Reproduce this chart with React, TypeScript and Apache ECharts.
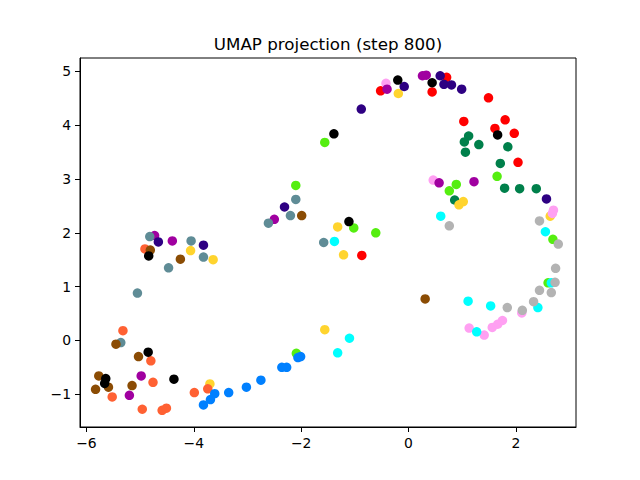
import React, { useEffect, useRef } from "react";
import * as echarts from "echarts";

const xTicks = [-6, -4, -2, 0, 2];
const yTicks = [-1, 0, 1, 2, 3, 4, 5];

const redPts = [[0.71,4.89],[0.44,4.62],[-0.52,4.64],[1.49,4.51],[1.03,4.07],[1.80,4.10],[1.61,3.94],[1.97,3.85],[2.04,3.31],[-0.87,1.58]];
const greenPts = [[1.12,3.80],[1.04,3.69],[1.31,3.64],[1.06,3.50],[1.85,3.60],[1.71,3.29],[1.79,2.83],[2.07,2.82],[2.38,2.82],[0.86,2.61]];
const goldPts = [[-0.19,4.59],[0.94,2.52],[1.02,2.58],[2.64,2.31],[-1.32,2.11],[-1.21,1.59],[-4.06,1.67],[-3.64,1.50],[-3.70,-0.81],[-1.56,0.20]];
const pinkPts = [[-0.42,4.78],[0.46,2.98],[2.70,2.42],[2.68,2.36],[2.11,0.51],[1.75,0.37],[1.66,0.30],[1.56,0.24],[1.41,0.10],[1.13,0.23]];
const magentaPts = [[0.26,4.92],[0.33,4.93],[-0.40,4.67],[0.57,2.93],[1.22,2.95],[-2.50,2.25],[-4.73,1.95],[-4.40,1.85],[-4.98,-0.66],[-5.20,-1.02]];
const indigoPts = [[0.59,4.92],[0.66,4.76],[0.80,4.75],[0.99,4.67],[-0.08,4.72],[-0.88,4.30],[2.57,2.63],[-2.31,2.48],[-4.66,1.83],[-3.82,1.77]];
const limePts = [[-1.56,3.68],[1.65,3.05],[0.89,2.90],[0.76,2.78],[2.69,1.88],[2.60,1.07],[-2.10,2.88],[-1.02,2.09],[-0.61,2.00],[-2.09,-0.24]];
const cyanPts = [[0.60,2.31],[2.55,2.02],[2.66,1.07],[2.41,0.61],[1.11,0.73],[1.53,0.64],[1.27,0.16],[-1.38,1.84],[-1.10,0.04],[-1.32,-0.23]];
const greyPts = [[0.76,2.13],[2.44,2.22],[2.79,1.79],[2.74,1.34],[2.73,1.08],[2.44,0.93],[2.66,0.89],[2.33,0.72],[1.84,0.61],[2.12,0.56]];
const slatePts = [[-2.10,2.62],[-2.20,2.32],[-2.61,2.18],[-1.58,1.82],[-4.82,1.93],[-4.05,1.85],[-3.82,1.55],[-4.47,1.35],[-5.05,0.88],[-5.36,-0.04]];
const orangePts = [[-4.91,1.70],[-5.32,0.18],[-4.80,-0.38],[-4.76,-0.78],[-5.52,-1.05],[-4.96,-1.28],[-4.59,-1.30],[-4.51,-1.26],[-3.99,-0.97],[-3.74,-0.90]];
const brownPts = [[0.31,0.77],[-1.99,2.32],[-4.81,1.68],[-4.25,1.51],[-5.45,-0.07],[-5.03,-0.30],[-5.77,-0.66],[-5.59,-0.87],[-5.83,-0.91],[-5.15,-0.84]];
const blackPts = [[0.44,4.79],[-0.20,4.84],[-1.39,3.84],[1.66,3.82],[-1.11,2.21],[-4.84,1.57],[-4.85,-0.22],[-4.37,-0.72],[-5.64,-0.71],[-5.66,-0.80]];
const bluePts = [[-3.61,-0.99],[-3.69,-1.10],[-3.82,-1.20],[-3.35,-0.97],[-3.02,-0.87],[-2.75,-0.74],[-2.36,-0.50],[-2.27,-0.50],[-2.06,-0.32],[-2.01,-0.30]];

const groups: [number[][], string][] = [
  [redPts, "#ff0000"],
  [greenPts, "#00804b"],
  [goldPts, "#ffd42e"],
  [pinkPts, "#ffa0f2"],
  [magentaPts, "#a000a0"],
  [indigoPts, "#2e0082"],
  [limePts, "#55ee10"],
  [cyanPts, "#00ffff"],
  [greyPts, "#b3b3b3"],
  [slatePts, "#5f8c96"],
  [orangePts, "#ff6133"],
  [brownPts, "#8b4c04"],
  [blackPts, "#000000"],
  [bluePts, "#0080ff"],
];

const FONT = "DejaVu Sans";
const fmt = (v: number) => String(v).replace("-", "\u2212");

export default function App() {
  const ref = useRef<HTMLDivElement>(null);
  useEffect(() => {
    if (!ref.current) return;
    const chart = echarts.init(ref.current, null, { renderer: "svg" });
    const axisCommon = {
      type: "value" as const,
      axisLine: { show: true, onZero: false, lineStyle: { color: "#000", width: 1 } },
      axisTick: { show: true, inside: false, length: 5, lineStyle: { color: "#000", width: 1 } },
      splitLine: { show: false },
    };
    chart.setOption({
      animation: false,
      backgroundColor: "#fff",
      grid: { left: 80, right: 64, top: 58, bottom: 53, show: true, borderColor: "#000", borderWidth: 1, backgroundColor: "transparent" },
      graphic: [
        {
          type: "text",
          x: 328,
          y: 44,
          style: { text: "UMAP projection (step 800)", font: `16.7px "${FONT}"`, fill: "#000", textAlign: "center", textVerticalAlign: "middle" },
        },
      ],
      xAxis: {
        ...axisCommon,
        min: -6.12,
        max: 3.12,
        axisTick: { ...axisCommon.axisTick, customValues: xTicks },
        axisLabel: { customValues: xTicks, formatter: fmt, margin: 9, color: "#000", fontFamily: FONT, fontSize: 13.9 },
      },
      yAxis: {
        ...axisCommon,
        min: -1.61,
        max: 5.25,
        axisTick: { ...axisCommon.axisTick, customValues: yTicks },
        axisLabel: { customValues: yTicks, formatter: fmt, margin: 9, color: "#000", fontFamily: FONT, fontSize: 13.9 },
      },
      series: groups.map(([pts, color]) => ({
        type: "scatter",
        data: pts,
        symbol: "circle",
        symbolSize: 9.5,
        itemStyle: { color, opacity: 1 },
        emphasis: { disabled: true },
      })),
    });
    return () => chart.dispose();
  }, []);
  return <div ref={ref} style={{ position: "fixed", left: 0, top: 0, width: 640, height: 480 }} />;
}
